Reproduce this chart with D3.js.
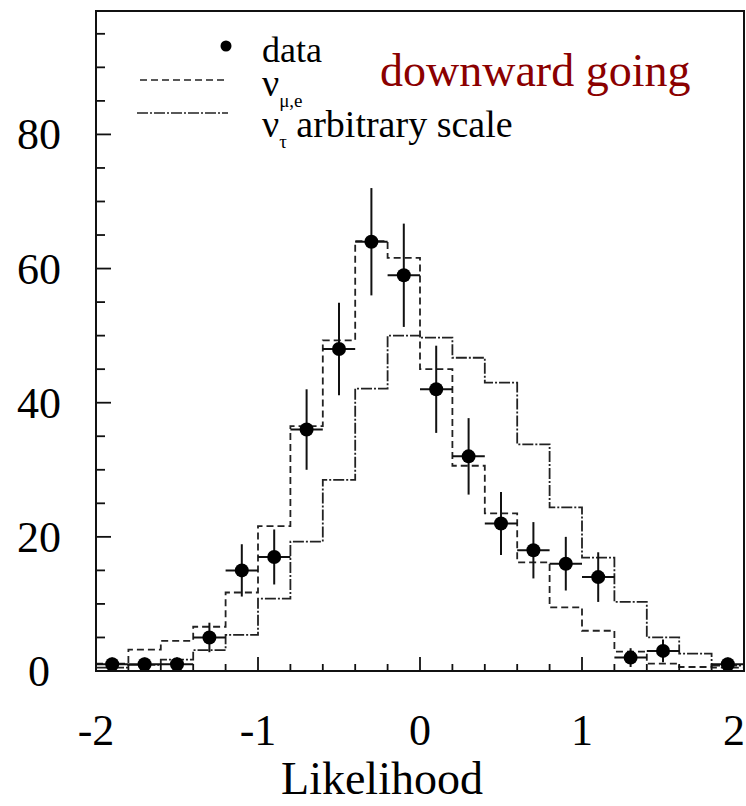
<!DOCTYPE html>
<html>
<head>
<meta charset="utf-8">
<script src="https://cdn.jsdelivr.net/npm/d3@7/dist/d3.min.js"></script>
<style>
  html, body { margin: 0; padding: 0; background: #fff; }
  svg { display: block; }
  text { font-family: "Liberation Serif", "Times New Roman", serif; }
</style>
</head>
<body>
<svg id="chart" width="746" height="806"></svg>
<script>
// ---- data ----
const binCenters = [-1.9,-1.7,-1.5,-1.3,-1.1,-0.9,-0.7,-0.5,-0.3,-0.1,0.1,0.3,0.5,0.7,0.9,1.1,1.3,1.5,1.7,1.9];
const binWidth = 0.2;
const dataCounts = [1,1,1,5,15,17,36,48,64,59,42,32,22,18,16,14,2,3,null,1];
const dataErrors = [1,1,1,2.2,3.9,4.1,6,6.9,8,7.7,6.5,5.7,4.7,4.2,4,3.7,1.4,1.7,null,1];
const numuE = [1.1,3.2,4.5,6.6,11.7,21.6,36.5,49.3,64.1,61.6,45,30.6,23.5,16.2,9.5,6.0,2.9,1.1,0.6,0.5];
const nutau = [0.5,0.9,1.7,3.1,5.4,10.8,19.3,28.5,42.1,50,49.7,46.7,43,33.8,24.4,16.9,10.3,5.0,2.6,0.8];
const xTickLabels = [-2,-1,0,1,2];
const xMinorTicks = [-1.8,-1.6,-1.4,-1.2,-0.8,-0.6,-0.4,-0.2,0.2,0.4,0.6,0.8,1.2,1.4,1.6,1.8];
const yTickLabels = [0,20,40,60,80];
const yMinorTicks = [5,10,15,25,30,35,45,50,55,65,70,75,85,90,95];
const xDomain = [-2, 2];
const yDomain = [0, 98.4];

// ---- layout ----
const svg = d3.select("#chart");
const L = 96, R = 744, T = 11, B = 671;
const x = d3.scaleLinear().domain(xDomain).range([L, R]);
const y = d3.scaleLinear().domain(yDomain).range([B, T]);
const ink = "#111";

// histograms as steps
function stepPoints(vals) {
  const pts = binCenters.map((c, i) => [c - binWidth / 2, vals[i]]);
  pts.push([binCenters[binCenters.length - 1] + binWidth / 2, vals[vals.length - 1]]);
  return pts;
}
const stepLine = d3.line().x(d => x(d[0])).y(d => y(d[1])).curve(d3.curveStepAfter);

svg.append("path").attr("d", stepLine(stepPoints(nutau)))
  .attr("fill", "none").attr("stroke", "#222").attr("stroke-width", 1.8)
  .attr("stroke-dasharray", "11,2,2,2");
svg.append("path").attr("d", stepLine(stepPoints(numuE)))
  .attr("fill", "none").attr("stroke", "#222").attr("stroke-width", 1.8)
  .attr("stroke-dasharray", "7,4");

// data points with error bars
const pts = binCenters.map((c, i) => ({c, v: dataCounts[i], e: dataErrors[i]})).filter(d => d.v != null);
const g = svg.append("g");
g.selectAll("line.h").data(pts).join("line")
  .attr("x1", d => x(d.c - binWidth / 2)).attr("x2", d => x(d.c + binWidth / 2))
  .attr("y1", d => y(d.v)).attr("y2", d => y(d.v))
  .attr("stroke", ink).attr("stroke-width", 2);
g.selectAll("line.v").data(pts).join("line")
  .attr("x1", d => x(d.c)).attr("x2", d => x(d.c))
  .attr("y1", d => y(Math.max(0, d.v - d.e))).attr("y2", d => y(d.v + d.e))
  .attr("stroke", ink).attr("stroke-width", 2);
g.selectAll("circle").data(pts).join("circle")
  .attr("cx", d => x(d.c)).attr("cy", d => y(d.v)).attr("r", 7).attr("fill", "#000");

// frame
svg.append("rect").attr("x", L).attr("y", T).attr("width", R - L).attr("height", B - T)
  .attr("fill", "none").attr("stroke", ink).attr("stroke-width", 2);

// ticks
svg.selectAll("line.xmaj").data(xTickLabels).join("line")
  .attr("x1", d => x(d)).attr("x2", d => x(d)).attr("y1", B).attr("y2", B - 14)
  .attr("stroke", ink).attr("stroke-width", 1.8);
svg.selectAll("line.xmin").data(xMinorTicks).join("line")
  .attr("x1", d => x(d)).attr("x2", d => x(d)).attr("y1", B).attr("y2", B - 7)
  .attr("stroke", ink).attr("stroke-width", 1.8);
svg.selectAll("line.ymaj").data(yTickLabels).join("line")
  .attr("x1", L).attr("x2", L + 15).attr("y1", d => y(d)).attr("y2", d => y(d))
  .attr("stroke", ink).attr("stroke-width", 1.8);
svg.selectAll("line.ymin").data(yMinorTicks).join("line")
  .attr("x1", L).attr("x2", L + 9).attr("y1", d => y(d)).attr("y2", d => y(d))
  .attr("stroke", ink).attr("stroke-width", 1.8);

// tick labels
svg.selectAll("text.xl").data(xTickLabels).join("text")
  .attr("x", d => x(d)).attr("y", 745).attr("text-anchor", "middle")
  .attr("font-size", 44).attr("fill", "#000").text(d => d)
  .each(function() {
    const bb = this.getBBox();
    if (bb.x + bb.width > 745) d3.select(this).attr("x", +d3.select(this).attr("x") - (bb.x + bb.width - 745));
  });
svg.selectAll("text.yl").data(yTickLabels).join("text")
  .attr("x", 39).attr("y", d => y(d) + 15).attr("text-anchor", "middle")
  .attr("font-size", 44).attr("fill", "#000").text(d => d);

// axis title
svg.append("text").attr("x", 382).attr("y", 794).attr("text-anchor", "middle")
  .attr("font-size", 46).attr("fill", "#000").text("Likelihood");

// legend
svg.append("circle").attr("cx", 226).attr("cy", 46).attr("r", 5.5).attr("fill", "#000");
svg.append("text").attr("x", 262).attr("y", 62).attr("font-size", 36).text("data");
svg.append("line").attr("x1", 140).attr("x2", 228).attr("y1", 80).attr("y2", 80)
  .attr("stroke", "#222").attr("stroke-width", 1.5).attr("stroke-dasharray", "7,4");
const t1 = svg.append("text").attr("x", 262).attr("y", 96).attr("font-size", 38);
t1.append("tspan").text("ν");
t1.append("tspan").attr("font-size", 19).attr("dy", 11).text("μ,e");
svg.append("line").attr("x1", 137).attr("x2", 228).attr("y1", 113).attr("y2", 113)
  .attr("stroke", "#222").attr("stroke-width", 1.5).attr("stroke-dasharray", "11,2,2,2");
const t2 = svg.append("text").attr("x", 262).attr("y", 137).attr("font-size", 38);
t2.append("tspan").text("ν");
t2.append("tspan").attr("font-size", 19).attr("dy", 11).text("τ");
t2.append("tspan").attr("dy", -11).text(" arbitrary scale");

svg.append("text").attr("x", 380).attr("y", 86).attr("font-size", 46)
  .attr("fill", "#8B0000").text("downward going");
</script>
</body>
</html>
